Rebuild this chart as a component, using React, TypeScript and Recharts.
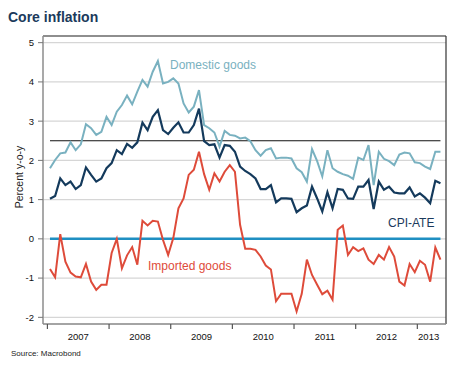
import React from 'react';
import { LineChart, Line, XAxis, YAxis, CartesianGrid, ReferenceLine } from 'recharts';

// monthly values, Jan 2007 .. May 2013, percent y-o-y
const domestic = [
  1.8, 2.01, 2.18, 2.2, 2.46, 2.26, 2.41, 2.92, 2.82, 2.65, 2.73, 3.11,
  2.9, 3.24, 3.41, 3.65, 3.43, 3.75, 4.05, 3.88, 4.26, 4.53, 3.96, 4.0,
  4.09, 3.96, 3.45, 3.22, 3.37, 3.79, 2.9, 2.82, 2.71, 2.35, 2.75, 2.65,
  2.63, 2.56, 2.58, 2.49, 2.26, 2.12, 2.26, 2.31, 2.05, 2.07, 2.07, 2.05,
  1.8, 1.7, 1.46, 2.29, 1.98, 1.59, 2.26, 1.8, 1.71, 1.65, 1.61, 1.53,
  2.07, 2.01, 2.39, 1.37, 2.22, 2.04, 1.98, 1.88, 2.15, 2.2, 2.18, 1.95,
  1.93, 1.84, 1.78, 2.22, 2.22,
];
const cpiAte = [
  1.02, 1.09, 1.54, 1.37, 1.46, 1.27, 1.37, 1.82, 1.63, 1.46, 1.54, 1.8,
  1.93, 2.26, 2.16, 2.42, 2.32, 2.46, 2.96, 2.77, 3.11, 3.28, 2.77, 2.67,
  2.83, 2.97, 2.71, 2.71, 2.9, 3.32, 2.49, 2.39, 2.41, 2.07, 2.39, 2.37,
  2.22, 1.84, 1.73, 1.65, 1.54, 1.27, 1.27, 1.37, 0.93, 1.03, 1.03, 1.02,
  0.68, 0.78, 0.85, 1.33, 1.03, 0.7, 1.19, 0.78, 1.27, 1.25, 1.03, 1.02,
  1.33, 1.33, 1.5, 0.76, 1.46, 1.25, 1.33, 1.18, 1.16, 1.16, 1.31, 1.08,
  1.16, 1.05, 0.91, 1.48, 1.42,
];
const imported = [
  -0.77, -0.98, 0.12, -0.58, -0.86, -0.96, -0.98, -0.64, -1.09, -1.3, -1.17, -1.17,
  -0.36, 0.0, -0.75, -0.42, -0.21, -0.66, 0.46, 0.34, 0.46, 0.44, -0.03, -0.41,
  0.02, 0.78, 1.03, 1.63, 1.76, 2.22, 1.65, 1.25, 1.67, 1.46, 1.71, 1.88,
  1.71, 0.36, -0.25, -0.25, -0.28, -0.45, -0.68, -0.78, -1.59, -1.4, -1.4, -1.4,
  -1.85, -1.4, -0.53, -0.92, -1.17, -1.41, -1.32, -1.55, 0.23, 0.34, -0.41, -0.21,
  -0.31, -0.24, -0.53, -0.64, -0.41, -0.53, -0.21, -0.45, -1.09, -1.19, -0.64, -0.85,
  -0.56, -0.66, -1.09, -0.22, -0.53,
];

const firstYear = 2007;
const yearStarts = [0, 12, 24, 36, 48, 60, 72];
const yearLabelAt = [6, 18, 30, 42, 54, 66, 74.2];
const yTicks = [-2, -1, 0, 1, 2, 3, 4, 5];
const target = 2.5;

const xMin = -0.86;
const xMax = 77.58;
const yMin = -2.17;
const yMax = 5.17;

const data = domestic.map((d, i) => ({
  t: i + 0.5,
  domestic: d,
  cpiAte: cpiAte[i],
  imported: imported[i],
}));
const firstT = data[0].t;
const lastT = data[data.length - 1].t;

const font = '"Liberation Sans", Arial, sans-serif';

const YearTick = (props: any) => {
  const { x, y, payload } = props;
  const v = payload.value;
  if (v % 12 === 0) {
    return <line x1={x} y1={y} x2={x} y2={y + 5} stroke="#555" strokeWidth={1.2} />;
  }
  return (
    <text x={x} y={y + 16} textAnchor="middle" fontSize={9.5} fill="#111" fontFamily={font}>
      {firstYear + Math.floor(v / 12)}
    </text>
  );
};

const lbl = (left: number, top: number, color: string, text: string) => (
  <div style={{ position: 'absolute', left, top, color, fontSize: 12, lineHeight: '14px', whiteSpace: 'nowrap' }}>
    {text}
  </div>
);

export default function App() {
  return (
    <div style={{ position: 'absolute', left: 0, top: 0, width: 460, height: 370, background: '#fff', fontFamily: font }}>
      <div style={{ position: 'absolute', left: 8, top: 9, fontSize: 14, fontWeight: 'bold', color: '#1b3a5c', lineHeight: '16px' }}>
        Core inflation
      </div>
      <LineChart width={460} height={370} data={data} margin={{ top: 36, right: 14, left: 3, bottom: 16 }}>
        <CartesianGrid horizontal vertical={false} stroke="#d6d6d6" strokeWidth={1.2} />
        <XAxis
          dataKey="t"
          type="number"
          domain={[xMin, xMax]}
          ticks={[...yearStarts, ...yearLabelAt].sort((a, b) => a - b)}
          interval={0}
          tick={<YearTick />}
          tickLine={false}
          tickSize={0}
          tickMargin={0}
          height={30}
          axisLine={{ stroke: '#8c8c8c', strokeWidth: 1.5 }}
          allowDataOverflow
        />
        <YAxis
          type="number"
          domain={[yMin, yMax]}
          ticks={yTicks}
          interval={0}
          width={40}
          tickSize={5}
          tickMargin={4}
          tick={{ fontSize: 9.5, fill: '#111', fontFamily: font }}
          tickLine={{ stroke: '#777' }}
          axisLine={{ stroke: '#8c8c8c', strokeWidth: 1.5 }}
          allowDataOverflow
        />
        <ReferenceLine y={yMax} stroke="#333" strokeWidth={1.2} />
        <ReferenceLine x={xMax} stroke="#333" strokeWidth={1.2} />
        <ReferenceLine segment={[{ x: firstT, y: 0 }, { x: lastT, y: 0 }]} stroke="#1f8fc2" strokeWidth={2.5} />
        <ReferenceLine segment={[{ x: firstT, y: target }, { x: lastT, y: target }]} stroke="#111" strokeWidth={1.2} />
        <Line type="linear" dataKey="domestic" stroke="#79b1c0" strokeWidth={2} dot={false} isAnimationActive={false} />
        <Line type="linear" dataKey="imported" stroke="#de4b3a" strokeWidth={2} dot={false} isAnimationActive={false} />
        <Line type="linear" dataKey="cpiAte" stroke="#143a5c" strokeWidth={2.2} dot={false} isAnimationActive={false} />
      </LineChart>
      <div
        style={{
          position: 'absolute', left: -31, top: 171, width: 100, textAlign: 'center',
          fontSize: 10.5, lineHeight: '12px', color: '#222', transform: 'rotate(-90deg)',
        }}
      >
        Percent y-o-y
      </div>
      {lbl(170, 58, '#79b1c0', 'Domestic goods')}
      {lbl(388, 216, '#1b3a5c', 'CPI-ATE')}
      {lbl(148, 259, '#de4b3a', 'Imported goods')}
      <div style={{ position: 'absolute', left: 11, top: 349, fontSize: 8, lineHeight: '10px', color: '#222' }}>
        Source: Macrobond
      </div>
    </div>
  );
}
